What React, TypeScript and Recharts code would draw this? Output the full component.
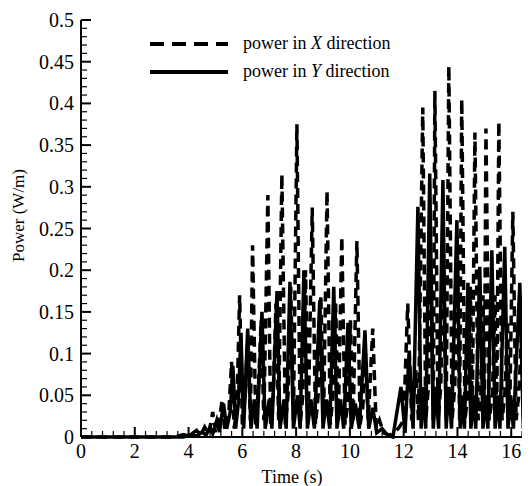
import React from 'react';
import { LineChart, Line, XAxis, YAxis } from 'recharts';

// Power in X direction (dashed) — time (s) and power (W/m)
const xTimes = [0, 3.5, 3.8, 4.0, 4.3, 4.45, 4.6, 4.75, 4.9, 5.0, 5.15, 5.25, 5.35, 5.5, 5.6, 5.7, 5.8, 5.9, 6.0, 6.1, 6.2, 6.3, 6.38, 6.5, 6.6, 6.7, 6.8, 6.95, 7.05, 7.15, 7.25, 7.35, 7.47, 7.6, 7.7, 7.8, 7.9, 8.03, 8.15, 8.25, 8.35, 8.45, 8.6, 8.72, 8.82, 8.92, 9.02, 9.15, 9.27, 9.37, 9.47, 9.57, 9.7, 9.82, 9.92, 10.02, 10.12, 10.26, 10.38, 10.48, 10.58, 10.68, 10.85, 10.98, 11.1, 11.25, 11.5, 11.8, 12.0, 12.15, 12.3, 12.45, 12.55, 12.71, 12.82, 12.92, 13.02, 13.1, 13.16, 13.28, 13.38, 13.48, 13.58, 13.68, 13.8, 13.9, 14.0, 14.08, 14.16, 14.28, 14.38, 14.48, 14.55, 14.65, 14.77, 14.87, 14.95, 15.0, 15.06, 15.18, 15.3, 15.4, 15.46, 15.54, 15.66, 15.76, 15.86, 15.94, 16.06, 16.18, 16.28, 16.38, 16.46, 16.58, 16.7, 16.8, 16.9, 17.0];
const xPower = [0, 0, 0.003, 0.001, 0.008, 0.002, 0.012, 0.003, 0.03, 0.005, 0.02, 0.045, 0.008, 0.03, 0.09, 0.01, 0.04, 0.17, 0.015, 0.05, 0.12, 0.02, 0.23, 0.015, 0.06, 0.14, 0.02, 0.29, 0.015, 0.05, 0.16, 0.02, 0.315, 0.015, 0.05, 0.18, 0.02, 0.375, 0.015, 0.05, 0.2, 0.02, 0.275, 0.015, 0.05, 0.17, 0.02, 0.295, 0.015, 0.05, 0.16, 0.02, 0.24, 0.015, 0.04, 0.14, 0.02, 0.235, 0.015, 0.035, 0.1, 0.02, 0.13, 0.01, 0.02, 0.005, 0.002, 0.01, 0.02, 0.16, 0.02, 0.08, 0.02, 0.395, 0.02, 0.06, 0.2, 0.02, 0.415, 0.02, 0.06, 0.22, 0.02, 0.445, 0.02, 0.06, 0.2, 0.02, 0.405, 0.02, 0.05, 0.18, 0.02, 0.365, 0.02, 0.05, 0.17, 0.02, 0.37, 0.02, 0.05, 0.17, 0.02, 0.378, 0.02, 0.05, 0.14, 0.02, 0.27, 0.02, 0.05, 0.12, 0.02, 0.215, 0.02, 0.05, 0.15, 0.02];

// Power in Y direction (solid)
const yTimes = [0, 3.8, 4.1, 4.3, 4.5, 4.65, 4.8, 4.9, 5.05, 5.15, 5.3, 5.42, 5.55, 5.65, 5.75, 5.85, 5.95, 6.05, 6.2, 6.32, 6.45, 6.55, 6.73, 6.85, 7.0, 7.1, 7.29, 7.4, 7.55, 7.63, 7.77, 7.9, 8.05, 8.15, 8.29, 8.42, 8.55, 8.68, 8.88, 9.0, 9.12, 9.25, 9.4, 9.52, 9.65, 9.77, 9.93, 10.05, 10.2, 10.35, 10.56, 10.7, 10.85, 11.0, 11.2, 11.4, 11.6, 11.9, 12.05, 12.2, 12.35, 12.53, 12.65, 12.75, 12.82, 12.97, 13.1, 13.2, 13.3, 13.46, 13.58, 13.68, 13.78, 13.98, 14.1, 14.18, 14.26, 14.39, 14.5, 14.6, 14.68, 14.83, 14.95, 15.05, 15.13, 15.28, 15.4, 15.5, 15.58, 15.76, 15.88, 15.98, 16.08, 16.32, 16.45, 16.55, 16.65, 16.8, 16.92, 17.0];
const yPower = [0, 0, 0.003, 0.001, 0.006, 0.002, 0.012, 0.004, 0.02, 0.006, 0.04, 0.01, 0.03, 0.085, 0.01, 0.04, 0.125, 0.01, 0.13, 0.01, 0.045, 0.01, 0.15, 0.01, 0.045, 0.01, 0.175, 0.01, 0.045, 0.01, 0.186, 0.01, 0.05, 0.01, 0.2, 0.01, 0.045, 0.01, 0.164, 0.01, 0.045, 0.01, 0.18, 0.01, 0.045, 0.01, 0.137, 0.01, 0.04, 0.01, 0.128, 0.01, 0.035, 0.005, 0.01, 0.002, 0, 0.06, 0.005, 0.1, 0.01, 0.276, 0.01, 0.06, 0.01, 0.316, 0.01, 0.06, 0.01, 0.308, 0.01, 0.06, 0.01, 0.26, 0.01, 0.05, 0.01, 0.185, 0.01, 0.05, 0.01, 0.204, 0.01, 0.05, 0.01, 0.224, 0.01, 0.05, 0.01, 0.228, 0.01, 0.05, 0.01, 0.185, 0.01, 0.05, 0.01, 0.15, 0.01, 0.05];

const xMajorTicks = [0, 2, 4, 6, 8, 10, 12, 14, 16];
const xMajorLabels = ['0', '2', '4', '6', '8', '10', '12', '14', '16'];
const yMajorTicks = [0, 0.05, 0.1, 0.15, 0.2, 0.25, 0.3, 0.35, 0.4, 0.45, 0.5];
const yMajorLabels = ['0', '0.05', '0.1', '0.15', '0.2', '0.25', '0.3', '0.35', '0.4', '0.45', '0.5'];

const xAllTicks = Array.from({ length: 46 }, (_, i) => +(i * 0.4).toFixed(1));
const yAllTicks = Array.from({ length: 51 }, (_, i) => +(i * 0.01).toFixed(2));

const xData = xTimes.map((t, i) => ({ t, v: xPower[i] }));
const yData = yTimes.map((t, i) => ({ t, v: yPower[i] }));

const FONT = "'Liberation Serif', 'DejaVu Serif', serif";
const textStyle = (size: number): React.CSSProperties => ({ fontFamily: FONT, fontSize: size, fill: '#000' });

const YTick = (props: any) => {
  const { x, y, payload } = props;
  const v = payload.value;
  const idx = yMajorTicks.findIndex((m) => Math.abs(m - v) < 1e-6);
  if (idx >= 0) {
    return (
      <g>
        <line x1={x} x2={x + 10} y1={y} y2={y} stroke="#000" strokeWidth={2} />
        <text x={x - 7} y={y} textAnchor="end" dominantBaseline="central" style={textStyle(20)}>
          {yMajorLabels[idx]}
        </text>
      </g>
    );
  }
  return <line x1={x} x2={x + 6} y1={y} y2={y} stroke="#000" strokeWidth={1.2} />;
};

const XTick = (props: any) => {
  const { x, y, payload } = props;
  const v = payload.value;
  const idx = xMajorTicks.findIndex((m) => Math.abs(m - v) < 1e-6);
  if (idx >= 0) {
    return (
      <g>
        <line x1={x} x2={x} y1={y} y2={y - 10} stroke="#000" strokeWidth={2} />
        <text x={x} y={y + 21} textAnchor="middle" style={textStyle(20)}>
          {xMajorLabels[idx]}
        </text>
      </g>
    );
  }
  return <line x1={x} x2={x} y1={y} y2={y - 6} stroke="#000" strokeWidth={1.2} />;
};

const Legend = () => (
  <svg width={320} height={60} style={{ position: 'absolute', left: 140, top: 26, overflow: 'visible' }}>
    <line x1={2} x2={80} y1={10} y2={10} stroke="#000" strokeWidth={4} strokeDasharray="14 8" />
    <text x={95} y={15} style={textStyle(18)}>
      power in <tspan style={{ fontStyle: 'italic' }}>X</tspan> direction
    </text>
    <line x1={2} x2={80} y1={38} y2={38} stroke="#000" strokeWidth={4} />
    <text x={95} y={43} style={textStyle(18)}>
      power in <tspan style={{ fontStyle: 'italic' }}>Y</tspan> direction
    </text>
  </svg>
);

const YLabel = (props: any) => {
  const { viewBox } = props;
  const cx = viewBox.x - 3;
  const cy = viewBox.y + viewBox.height / 2 - 13;
  return (
    <text x={cx} y={cy} transform={`rotate(-90, ${cx}, ${cy})`} textAnchor="middle" dominantBaseline="central" style={textStyle(17)}>
      Power (W/m)
    </text>
  );
};

const XLabel = (props: any) => {
  const { viewBox } = props;
  const cx = viewBox.x + viewBox.width / 2 - 31;
  const cy = viewBox.y + 46;
  return (
    <text x={cx} y={cy} textAnchor="middle" style={textStyle(18)}>
      Time (s)
    </text>
  );
};

export default function App() {
  return (
    <div style={{ width: 522, height: 478, overflow: 'hidden', position: 'relative', background: '#fff', fontFamily: FONT }}>
      <LineChart width={620} height={478} margin={{ top: 12, right: 63, bottom: 9, left: 13 }}>
        <XAxis
          dataKey="t"
          type="number"
          domain={[0, 18]}
          ticks={xAllTicks}
          interval={0}
          tick={<XTick />}
          tickLine={false}
          tickSize={0}
          tickMargin={0}
          height={40}
          axisLine={{ stroke: '#000', strokeWidth: 2 }}
          label={<XLabel />}
          allowDataOverflow
        />
        <XAxis
          xAxisId="top"
          orientation="top"
          type="number"
          domain={[0, 18]}
          height={0}
          tick={false}
          tickLine={false}
          axisLine={{ stroke: '#000', strokeWidth: 2 }}
        />
        <YAxis
          type="number"
          domain={[0, 0.5]}
          ticks={yAllTicks}
          interval={0}
          tick={<YTick />}
          tickLine={false}
          tickSize={0}
          tickMargin={0}
          width={60}
          axisLine={{ stroke: '#000', strokeWidth: 2 }}
          label={<YLabel />}
        />
        <Line data={xData} dataKey="v" type="linear" stroke="#000" strokeWidth={3.5} strokeDasharray="10 6" dot={false} isAnimationActive={false} />
        <Line data={yData} dataKey="v" type="linear" stroke="#000" strokeWidth={3.5} dot={false} isAnimationActive={false} />
      </LineChart>
      <Legend />
    </div>
  );
}
